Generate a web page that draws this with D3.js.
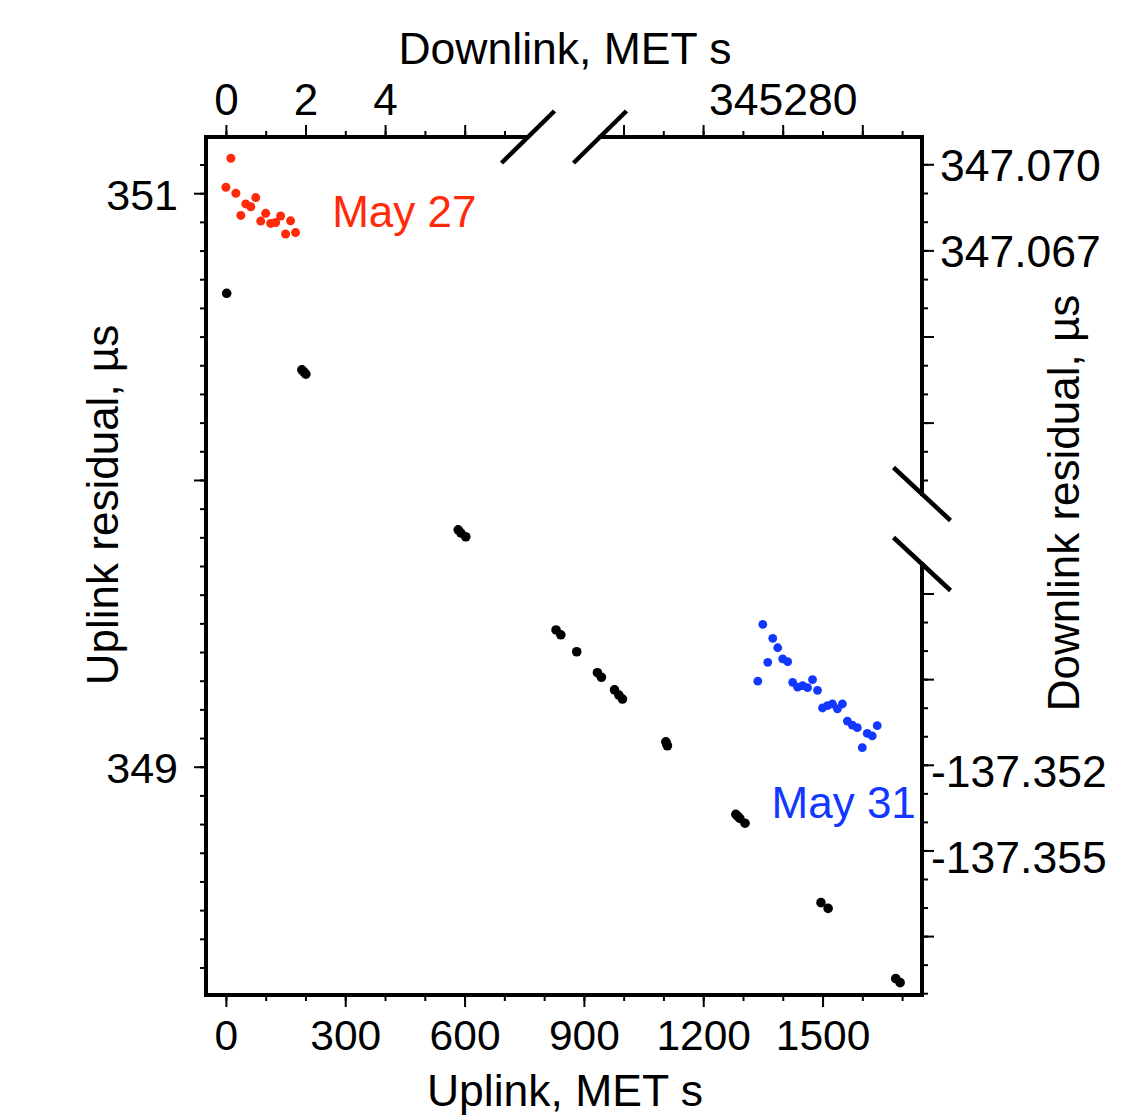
<!DOCTYPE html>
<html>
<head>
<meta charset="utf-8">
<script src="https://cdn.jsdelivr.net/npm/d3@7"></script>
<style>
  body { margin: 0; background: #fff; }
  text { font-family: "Liberation Sans", Arial, Helvetica, sans-serif; }
</style>
</head>
<body>
<div id="chart"></div>
<script>
// uplink residuals (black), bottom + left axes
var upTime  = [2, 191, 196, 201, 584, 591, 603, 830, 842, 882, 934, 944, 977, 988, 997,
               1106, 1108, 1110, 1282, 1287, 1292, 1305, 1496, 1514, 1684, 1695];
var upResid = [350.651, 350.384, 350.377, 350.369, 349.826, 349.815, 349.802, 349.477, 349.460,
               349.401, 349.328, 349.312, 349.268, 349.250, 349.236, 349.087, 349.080, 349.073,
               348.834, 348.827, 348.820, 348.803, 348.526, 348.506, 348.261, 348.247];

// downlink May 27 (red), top-left + right-upper axes
var may27Time  = [0, 0.125, 0.25, 0.375, 0.5, 0.625, 0.75, 0.875, 1.0, 1.125, 1.25, 1.375, 1.5, 1.625, 1.75];
var may27Resid = [347.06920, 347.07021, 347.06899, 347.06822, 347.06862, 347.06852, 347.06884, 347.06802,
                  347.06829, 347.06794, 347.06797, 347.06820, 347.06757, 347.06803, 347.06762];

// downlink May 31 (blue), top-right + right-lower axes
var may31Time  = [345279.375, 345279.5, 345279.625, 345279.75, 345279.875, 345280.0, 345280.125,
                  345280.25, 345280.375, 345280.5, 345280.625, 345280.75, 345280.875, 345281.0,
                  345281.125, 345281.25, 345281.375, 345281.5, 345281.625, 345281.75, 345281.875,
                  345282.0, 345282.125, 345282.25, 345282.375];
var may31Resid = [-137.34907, -137.34708, -137.34841, -137.34757, -137.34790, -137.34829, -137.34839,
                  -137.34911, -137.34928, -137.34923, -137.34930, -137.34902, -137.34939, -137.35001,
                  -137.34993, -137.34987, -137.35004, -137.34987, -137.35047, -137.35061, -137.35070,
                  -137.35140, -137.35090, -137.35099, -137.35063];

// tick values
var bottomMinor = d3.range(0, 1701, 100);
var bottomMajor = [0, 300, 600, 900, 1200, 1500];
var leftMinor = d3.range(3483, 3512).map(function(v) { return v / 10; });
var leftMajor = [349, 350, 351];
var leftLabels = [349, 351];
var topAMinor = d3.range(0, 8);
var topAMajor = [0, 2, 4, 6];
var topALabels = [0, 2, 4];
var topBMinor = d3.range(345276, 345284);
var topBMajor = [345276, 345278, 345280, 345282];
var topBLabels = [345280];
var rightAMinor = d3.range(59, 71).map(function(v) { return 347 + v / 1000; });
var rightAMajor = [347.061, 347.064, 347.067, 347.070];
var rightALabels = ["347.067", "347.070"];
var rightBMinor = d3.range(346, 361).map(function(v) { return -137 - v / 1000; });
var rightBMajor = [-137.346, -137.349, -137.352, -137.355, -137.358];
var rightBLabels = ["-137.352", "-137.355"];

var W = 1134, H = 1117;
var L = 206, R = 922, T = 137, B = 995;
var breakX = [526, 600], breakY = [494, 564];

var svg = d3.select("#chart").append("svg")
    .attr("width", W)
    .attr("height", H);

var xUp  = d3.scaleLinear().domain([-50, 1750]).range([L, R]);
var yUp  = d3.scaleLinear().domain([348.204, 351.196]).range([B, T]);
var xDnA = d3.scaleLinear().domain([-0.5, 7.54]).range([L, breakX[0]]);
var xDnB = d3.scaleLinear().domain([345275.41, 345283.5]).range([breakX[1], R]);
var yDnA = d3.scaleLinear().domain([347.058512, 347.070951]).range([breakY[0], T]);
var yDnB = d3.scaleLinear().domain([-137.360063, -137.344967]).range([B, breakY[1]]);

function axisPair(axisFn, scale, minor, major, fmt, pos, fs) {
  var g = svg.append("g").attr("transform", pos);
  g.append("g").call(axisFn(scale).tickValues(minor).tickSize(6).tickSizeOuter(0).tickFormat(""));
  var gm = g.append("g").call(axisFn(scale).tickValues(major).tickSize(12).tickSizeOuter(0).tickFormat(fmt));
  g.selectAll(".domain").remove();
  g.selectAll(".tick line").attr("stroke", "#000").attr("stroke-width", 2);
  gm.selectAll("text").attr("fill", "#000").style("font-size", fs + "px");
  return gm;
}

// bottom
axisPair(d3.axisBottom, xUp, bottomMinor, bottomMajor, function(d) { return d; }, "translate(0," + B + ")", 42.5)
  .selectAll("text").attr("y", 55).attr("dy", null);

// left
axisPair(d3.axisLeft, yUp, leftMinor, leftMajor,
  function(d) { return leftLabels.indexOf(d) >= 0 ? d : ""; }, "translate(" + L + ",0)", 43)
  .selectAll("text").attr("x", -28).attr("dy", "0.37em");

// top, two segments
axisPair(d3.axisTop, xDnA, topAMinor, topAMajor,
  function(d) { return topALabels.indexOf(d) >= 0 ? d : ""; }, "translate(0," + T + ")", 44)
  .selectAll("text").attr("y", -22).attr("dy", null);
axisPair(d3.axisTop, xDnB, topBMinor, topBMajor,
  function(d) { return topBLabels.indexOf(d) >= 0 ? d : ""; }, "translate(0," + T + ")", 44.5)
  .selectAll("text").attr("y", -22).attr("dy", null);

// right, two segments
axisPair(d3.axisRight, yDnA, rightAMinor, rightAMajor,
  function(d) { var s = d.toFixed(3); return rightALabels.indexOf(s) >= 0 ? s : ""; }, "translate(" + R + ",0)", 44.5)
  .selectAll("text").attr("x", 18).attr("dy", 16);
axisPair(d3.axisRight, yDnB, rightBMinor, rightBMajor,
  function(d) { var s = d.toFixed(3); return rightBLabels.indexOf(s) >= 0 ? s : ""; }, "translate(" + R + ",0)", 44.5)
  .selectAll("text").attr("x", 9).attr("dy", 22);

// frame with gaps at the breaks
var frame = [
  [L, T, L, B], [L, B, R, B],
  [L, T, breakX[0], T], [breakX[1], T, R, T],
  [R, T, R, breakY[0]], [R, breakY[1], R, B]
];
svg.append("g").selectAll("line").data(frame).enter().append("line")
  .attr("x1", function(d) { return d[0]; })
  .attr("y1", function(d) { return d[1]; })
  .attr("x2", function(d) { return d[2]; })
  .attr("y2", function(d) { return d[3]; })
  .attr("stroke", "#000")
  .attr("stroke-width", 4)
  .attr("stroke-linecap", "square");

// break marks
var slashes = [
  [breakX[0] + 2, T, -26.5, 26], [breakX[1], T, -26.5, 26],
  [R, breakY[0], -28.5, -26.5], [R, breakY[1], -28.5, -26.5]
];
svg.append("g").selectAll("line").data(slashes).enter().append("line")
  .attr("x1", function(d) { return d[0] + d[2]; })
  .attr("y1", function(d) { return d[1] + d[3]; })
  .attr("x2", function(d) { return d[0] - d[2]; })
  .attr("y2", function(d) { return d[1] - d[3]; })
  .attr("stroke", "#000")
  .attr("stroke-width", 4.5);

// points
svg.append("g").selectAll("circle").data(upTime).enter().append("circle")
  .attr("cx", function(d) { return xUp(d); })
  .attr("cy", function(d, i) { return yUp(upResid[i]); })
  .attr("r", 4.8)
  .attr("fill", "#000");

var red = "#ff2a0a", blue = "#1238ff";
svg.append("g").selectAll("circle").data(may27Time).enter().append("circle")
  .attr("cx", function(d) { return xDnA(d); })
  .attr("cy", function(d, i) { return yDnA(may27Resid[i]); })
  .attr("r", 4.5)
  .attr("fill", red);

svg.append("g").selectAll("circle").data(may31Time).enter().append("circle")
  .attr("cx", function(d) { return xDnB(d); })
  .attr("cy", function(d, i) { return yDnB(may31Resid[i]); })
  .attr("r", 4.4)
  .attr("fill", blue);

// annotations
svg.append("text")
  .attr("x", xDnA(2.67)).attr("y", yDnA(347.06782))
  .attr("fill", red).style("font-size", "44px")
  .text("May 27");
svg.append("text")
  .attr("x", xDnB(345279.72)).attr("y", yDnB(-137.35386))
  .attr("fill", blue).style("font-size", "44px")
  .text("May 31");

// axis titles
svg.append("text").attr("x", 565).attr("y", 64)
  .attr("text-anchor", "middle").style("font-size", "44.5px")
  .text("Downlink, MET s");
svg.append("text").attr("x", 565).attr("y", 1106)
  .attr("text-anchor", "middle").style("font-size", "44.5px")
  .text("Uplink, MET s");
svg.append("text")
  .attr("transform", "translate(118,505)rotate(-90)")
  .attr("text-anchor", "middle").style("font-size", "44px")
  .text("Uplink residual, \u00b5s");
svg.append("text")
  .attr("transform", "translate(1079,503)rotate(-90)")
  .attr("text-anchor", "middle").style("font-size", "44px")
  .text("Downlink residual, \u00b5s");
</script>
</body>
</html>
